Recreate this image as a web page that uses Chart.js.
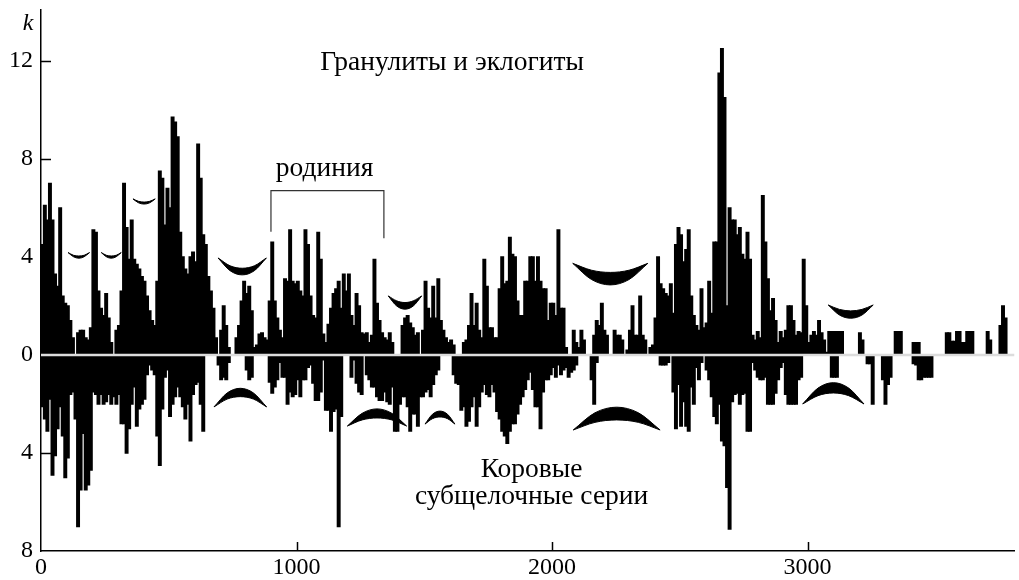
<!DOCTYPE html>
<html lang="ru">
<head>
<meta charset="utf-8">
<title>k</title>
<script src="https://cdn.jsdelivr.net/npm/chart.js@4.4.1/dist/chart.umd.min.js"></script>
<style>
  html, body { margin: 0; padding: 0; background: #fff; }
  canvas { display: block; }
</style>
</head>
<body>
<canvas id="kChart" width="1019" height="580"></canvas>
<script>
// histogram bins, 10 Ma each, starting at 0
const binWidth = 10

// Гранулиты и эклогиты (up)
const granulites = [
    4.5, 6.1, 5.5, 7.0, 5.5, 3.3, 2.8, 6.0, 2.4, 2.1,
    2.0, 1.4, 0.7, 0, 0.9, 1.0, 1.0, 0.7, 0.6, 1.1,
    5.1, 5.0, 2.6, 1.9, 1.6, 2.5, 1.5, 0.5, 0, 1.0,
    1.2, 2.6, 7.0, 5.2, 3.9, 5.5, 3.9, 3.7, 3.5, 3.2,
    3.0, 2.4, 1.8, 1.4, 1.2, 3.0, 7.5, 7.2, 5.3, 6.8,
    6.0, 9.7, 9.5, 8.9, 5.0, 4.0, 3.5, 3.3, 4.0, 4.2,
    3.8, 8.6, 7.2, 4.9, 4.5, 3.2, 2.6, 1.9, 0.7, 0,
    1.0, 2.0, 1.2, 0.3, 0, 0, 0.7, 1.2, 2.2, 3.0,
    2.5, 2.8, 1.8, 0.3, 0.4, 0.85, 0.9, 0.7, 0.6, 2.2,
    4.6, 2.2, 1.5, 1.0, 0.7, 3.1, 3.0, 5.1, 3.0, 2.9,
    3.0, 2.6, 2.4, 5.1, 4.5, 2.4, 1.6, 1.5, 5.0, 3.9,
    0.85, 0.5, 1.25, 1.9, 2.5, 2.7, 3.0, 1.9, 3.3, 2.6,
    3.3, 1.6, 1.2, 2.5, 2.0, 0.9, 0.85, 0.9, 0.5, 0.8,
    3.9, 2.1, 1.4, 0.9, 0.7, 0.6, 0.9, 0.5, 0, 0,
    0, 1.2, 1.5, 1.6, 1.3, 1.1, 0.8, 0.9, 0, 1.0,
    3.0, 1.9, 1.5, 2.8, 1.5, 3.1, 1.4, 1.0, 0.7, 0.5,
    0.6, 0.4, 0, 0, 0, 0.5, 0.6, 1.2, 2.5, 1.2,
    2.1, 1.0, 0.7, 3.9, 2.8, 1.1, 1.1, 0.7, 0.7, 2.7,
    4.0, 2.9, 3.0, 4.8, 4.1, 4.0, 2.2, 1.6, 1.6, 3.0,
    3.0, 4.0, 4.0, 3.0, 4.0, 3.0, 2.7, 2.7, 1.4, 2.1,
    2.1, 1.6, 5.1, 1.9, 1.9, 0.3, 0, 0, 1.0, 0.5,
    0.3, 1.0, 0.6, 0, 0, 0, 0.8, 1.4, 1.2, 2.1,
    1.0, 0.8, 0, 0, 1.0, 0.8, 0.8, 0.6, 0, 0.2,
    1.0, 2.0, 0.8, 0.8, 2.4, 0.8, 0.6, 0, 0.3, 0.4,
    1.5, 4.0, 2.9, 2.7, 2.5, 2.4, 2.9, 1.7, 4.5, 5.2,
    4.9, 3.8, 4.3, 5.1, 2.4, 1.6, 1.2, 1.0, 2.7, 1.1,
    1.3, 3.0, 1.7, 4.6, 4.6, 11.5, 12.5, 10.5, 2.0, 6.0,
    5.5, 5.5, 4.9, 5.2, 4.1, 3.9, 5.0, 3.9, 0.8, 0.6,
    0.95, 0.7, 6.5, 4.6, 3.1, 1.8, 2.3, 1.4, 0.5, 0.95,
    0.7, 1.0, 2.0, 2.0, 1.4, 0.8, 0.95, 0.9, 3.9, 2.0,
    0.5, 0.8, 0.95, 0.8, 1.4, 0.9, 0.6, 0.1, 0.95, 0.95,
    0.95, 0.95, 0.95, 0.95, 0, 0, 0, 0, 0, 0,
    0.9, 0.6, 0, 0, 0, 0, 0, 0, 0, 0,
    0, 0, 0, 0, 0.95, 0.95, 0.95, 0, 0, 0,
    0, 0.5, 0.5, 0.5, 0, 0, 0, 0, 0, 0,
    0, 0, 0, 0, 0.9, 0.9, 0.55, 0.55, 0.95, 0.95,
    0.5, 0.5, 0.95, 0.95, 0.95, 0, 0, 0, 0, 0,
    0.95, 0.6, 0, 0, 0, 1.2, 2.0, 1.5, 0, 0
]

// Коровые субщелочные серии (down, drawn below zero)
const crustal = [
    2.1, 2.6, 3.1, 1.8, 4.9, 4.1, 3.0, 2.1, 3.3, 5.0,
    4.2, 1.6, 1.5, 2.6, 7.0, 5.5, 3.2, 5.5, 5.3, 4.7,
    1.5, 1.6, 2.0, 1.6, 2.0, 1.9, 1.6, 2.0, 1.7, 2.0,
    1.6, 2.8, 2.8, 4.0, 3.0, 2.0, 1.3, 2.9, 2.2, 2.0,
    1.8, 0.8, 0.4, 0.6, 0.8, 3.3, 4.5, 2.2, 0.9, 0.6,
    2.5, 2.0, 1.7, 1.3, 1.7, 2.1, 2.6, 2.0, 3.5, 1.6,
    1.2, 1.1, 2.0, 3.1, 0, 0, 0, 0, 0, 0.4,
    1.0, 0.9, 1.0, 0.3, 0, 0, 0, 0, 0, 0,
    0.6, 1.0, 0.9, 0, 0, 0, 0, 0, 0, 1.1,
    1.55, 1.3, 1.0, 0.3, 0.9, 0.9, 2.0, 1.5, 1.7, 1.6,
    1.0, 1.7, 1.0, 1.0, 0.5, 0.4, 1.15, 1.85, 1.85, 1.5,
    0.2, 2.25, 2.25, 3.1, 2.3, 2.2, 7.0, 2.5, 0, 0,
    0, 0.9, 0.2, 1.15, 1.5, 1.6, 0, 0.8, 1.0, 1.3,
    1.3, 1.7, 1.85, 1.85, 1.5, 1.9, 2.0, 1.3, 3.1, 3.1,
    2.0, 1.7, 1.7, 2.1, 3.1, 2.4, 2.4, 2.9, 1.7, 1.7,
    1.5, 1.4, 1.7, 1.2, 0.8, 0.6, 0, 0, 0, 0,
    0, 0.8, 1.15, 1.2, 2.25, 2.1, 2.9, 2.7, 2.1, 1.7,
    2.9, 2.1, 1.5, 1.2, 1.6, 1.7, 1.2, 1.5, 2.3, 2.6,
    3.1, 3.3, 3.6, 3.1, 2.8, 2.8, 2.4, 2.0, 1.7, 1.4,
    1.0, 0.7, 1.4, 2.1, 2.1, 3.0, 1.5, 1.0, 1.0, 0.8,
    0.5, 0.9, 0.4, 0.8, 0.6, 0.5, 0.9, 0.7, 0.6, 0.4,
    0, 0, 0, 0, 0, 1.0, 2.0, 0.3, 0, 0,
    0, 0, 0, 0, 0, 0, 0, 0, 0, 0,
    0, 0, 0, 0, 0, 0, 0, 0, 0, 0,
    0, 0, 0.4, 0.4, 0.4, 0.3, 0, 1.5, 3.0, 1.2,
    2.9, 1.9, 2.9, 3.1, 1.3, 2.0, 0.5, 1.0, 0.3, 0,
    0.6, 1.0, 1.7, 2.5, 2.8, 2.0, 3.5, 3.7, 5.4, 7.1,
    1.9, 1.6, 1.55, 2.0, 1.6, 1.55, 3.1, 3.1, 0.3, 0.6,
    0.9, 1.0, 1.0, 0.9, 2.0, 2.0, 2.0, 1.55, 1.0, 0.5,
    0.3, 1.6, 2.0, 2.0, 2.0, 2.0, 1.0, 0.9, 0, 0,
    0, 0, 0, 0, 0, 0, 0, 0, 0, 0.9,
    0.9, 0.9, 0, 0, 0, 0, 0, 0, 0, 0,
    0, 0, 0, 0.35, 0.35, 2.0, 0, 0, 0, 1.0,
    2.0, 1.2, 0.9, 0, 0, 0, 0, 0, 0, 0,
    0, 0.35, 0.4, 1.0, 1.0, 0.9, 0.9, 0.9, 0.9, 0,
    0, 0, 0, 0, 0, 0, 0, 0, 0, 0,
    0, 0, 0, 0, 0, 0, 0, 0, 0, 0,
    0, 0, 0, 0, 0, 0, 0, 0, 0, 0
]

const xTicks = [0, 1000, 2000, 3000]
const yTicks = [-8, -4, 0, 4, 8, 12]

// crescent marks: x of 5 points, upper edge, lower edge
const lensX = [
    [106, 127, 148, 169, 190],
    [236, 255.5, 275, 294.5, 314],
    [360, 382, 403.5, 425, 447],
    [693, 740, 787.5, 835, 882],
    [1359, 1392, 1424.5, 1457, 1490],
    [2081, 2154.5, 2228, 2301.5, 2375],
    [3081, 3125, 3169, 3213, 3257],
    [677, 728.5, 780, 831.5, 883],
    [1199, 1257, 1315, 1373, 1431],
    [1503, 1532, 1561.5, 1591, 1620],
    [2083, 2168, 2253, 2338, 2423],
    [2981, 3041, 3101, 3161, 3221]
]
const lensTop = [
    [4.18, 4.07, 4.04, 4.07, 4.18],
    [4.18, 4.07, 4.04, 4.07, 4.18],
    [6.37, 6.27, 6.24, 6.27, 6.37],
    [3.96, 3.64, 3.54, 3.64, 3.96],
    [2.41, 2.21, 2.14, 2.21, 2.41],
    [3.74, 3.46, 3.37, 3.46, 3.74],
    [2.04, 1.86, 1.8, 1.86, 2.04],
    [-2.12, -1.55, -1.36, -1.55, -2.12],
    [-2.9, -2.38, -2.2, -2.38, -2.9],
    [-2.82, -2.42, -2.29, -2.42, -2.82],
    [-3.06, -2.36, -2.13, -2.36, -3.06],
    [-2.0, -1.35, -1.13, -1.35, -2.0]
]
const lensBottom = [
    [4.18, 4.01, 3.95, 4.01, 4.18],
    [4.18, 4.01, 3.95, 4.01, 4.18],
    [6.37, 6.21, 6.16, 6.21, 6.37],
    [3.96, 3.44, 3.27, 3.44, 3.96],
    [2.41, 2.0, 1.87, 2.0, 2.41],
    [3.74, 3.08, 2.86, 3.08, 3.74],
    [2.04, 1.63, 1.5, 1.63, 2.04],
    [-2.12, -1.8, -1.7, -1.8, -2.12],
    [-2.9, -2.65, -2.57, -2.65, -2.9],
    [-2.82, -2.6, -2.53, -2.6, -2.82],
    [-3.06, -2.75, -2.65, -2.75, -3.06],
    [-2.0, -1.66, -1.55, -1.66, -2.0]
]

const serif = '"Liberation Serif", "Times New Roman", serif'

var datasets = [
    {   // white separation along zero
        type: 'line',
        data: [{x: 0, y: 0}, {x: 3810, y: 0}],
        borderColor: '#dcdcdc',
        borderWidth: 2.5,
        pointRadius: 0,
        order: -1
    },
    {
        data: granulites.map((v, i) => ({x: i * binWidth + binWidth / 2, y: v})),
        backgroundColor: '#000',
        barPercentage: 1,
        categoryPercentage: 1,
        inflateAmount: 0.7,
        grouped: false,
        order: 2
    },
    {
        data: crustal.map((v, i) => ({x: i * binWidth + binWidth / 2, y: -v})),
        backgroundColor: '#000',
        barPercentage: 1,
        categoryPercentage: 1,
        inflateAmount: 0.7,
        grouped: false,
        order: 2
    }
]

for (var k = 0; k < lensX.length; k++) {
    datasets.push({
        type: 'line',
        data: lensX[k].map((x, i) => ({x: x, y: lensTop[k][i]})),
        borderColor: '#000',
        borderWidth: 1,
        pointRadius: 0,
        cubicInterpolationMode: 'monotone',
        fill: false,
        order: 1
    })
    datasets.push({
        type: 'line',
        data: lensX[k].map((x, i) => ({x: x, y: lensBottom[k][i]})),
        borderColor: '#000',
        backgroundColor: '#000',
        borderWidth: 1,
        pointRadius: 0,
        cubicInterpolationMode: 'monotone',
        fill: '-1',
        order: 1
    })
}

const decorations = {
    id: 'decorations',
    afterDraw(chart) {
        const {ctx, chartArea, scales: {x, y}} = chart
        ctx.save()
        ctx.strokeStyle = '#000'
        ctx.lineWidth = 1.5
        // tick marks pointing inside
        yTicks.forEach(v => {
            if (v === 0 || v === yTicks[0]) return
            var py = Math.round(y.getPixelForValue(v)) + 0.5
            ctx.beginPath()
            ctx.moveTo(chartArea.left, py)
            ctx.lineTo(chartArea.left + 10, py)
            ctx.stroke()
        })
        xTicks.forEach(v => {
            if (v === 0) return
            var px = Math.round(x.getPixelForValue(v)) + 0.5
            ctx.beginPath()
            ctx.moveTo(px, chartArea.bottom)
            ctx.lineTo(px, chartArea.bottom - 9)
            ctx.stroke()
        })

        // bracket over rodinia
        ctx.strokeStyle = '#333'
        ctx.lineWidth = 1.2
        ctx.beginPath()
        ctx.moveTo(x.getPixelForValue(900), y.getPixelForValue(5.03))
        ctx.lineTo(x.getPixelForValue(900), y.getPixelForValue(6.71))
        ctx.lineTo(x.getPixelForValue(1342), y.getPixelForValue(6.71))
        ctx.lineTo(x.getPixelForValue(1342), y.getPixelForValue(4.76))
        ctx.stroke()

        ctx.fillStyle = '#000'
        ctx.textAlign = 'center'
        ctx.textBaseline = 'alphabetic'
        ctx.font = '27.5px ' + serif
        ctx.fillText('Гранулиты и эклогиты', x.getPixelForValue(1609), y.getPixelForValue(11.63))
        ctx.fillText('родиния', x.getPixelForValue(1110), y.getPixelForValue(7.3))
        ctx.fillText('Коровые', x.getPixelForValue(1920), y.getPixelForValue(-5.0))
        ctx.fillText('субщелочные серии', x.getPixelForValue(1920), y.getPixelForValue(-6.1))

        ctx.font = 'italic 24px ' + serif
        ctx.fillText('k', chartArea.left - 13, chartArea.top + 20)
        ctx.restore()
    }
}

new Chart(document.getElementById('kChart'), {
    type: 'bar',
    data: { datasets: datasets },
    options: {
        responsive: false,
        animation: false,
        layout: { padding: { top: 10, right: 4.5, left: 0, bottom: 0 } },
        plugins: { legend: { display: false }, tooltip: { enabled: false } },
        scales: {
            x: {
                type: 'linear',
                min: 0,
                max: 3810,
                offset: false,
                grid: { display: false, drawTicks: false },
                border: { color: '#000', width: 1.5 },
                ticks: { color: '#000', font: { family: serif, size: 24 }, padding: 2, autoSkip: false, maxRotation: 0,
                    callback: v => String(v) },
                afterBuildTicks(scale) { scale.ticks = xTicks.map(v => ({ value: v })) },
                afterFit(scale) {
                    scale.height = 29
                    scale.paddingLeft = 0
                    scale.paddingRight = 0
                }
            },
            y: {
                min: -8,
                max: 14.08,
                grid: { display: false, drawTicks: false },
                border: { color: '#000', width: 1.5 },
                ticks: { color: '#000', font: { family: serif, size: 24 }, padding: 8,
                    callback: v => String(Math.abs(v)) },
                afterBuildTicks(scale) { scale.ticks = yTicks.map(v => ({ value: v })) },
                afterFit(scale) {
                    scale.width = 41
                    scale.paddingTop = 0
                    scale.paddingBottom = 0
                }
            }
        }
    },
    plugins: [decorations]
})
</script>
</body>
</html>
